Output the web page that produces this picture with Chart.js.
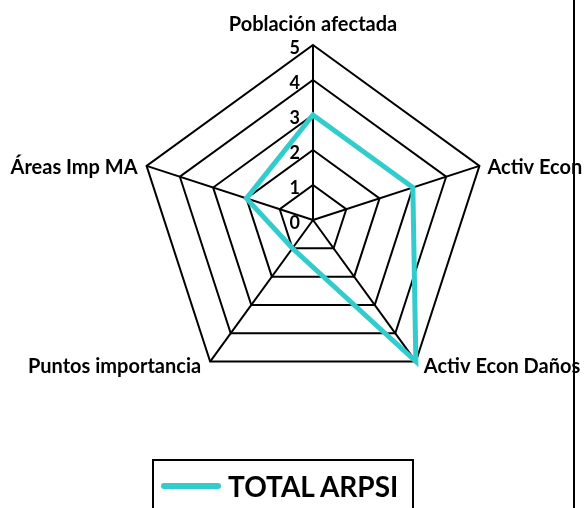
<!DOCTYPE html>
<html>
<head>
<meta charset="utf-8">
<script src="https://cdn.jsdelivr.net/npm/chart.js@4"></script>
<style>
  body { margin: 0; background: #fff; }
  #wrap { position: relative; width: 585px; height: 508px; overflow: hidden; }
  #borde { position: absolute; left: 573px; top: 0; width: 2px; height: 508px; background: #000; }
  #leyenda {
    position: absolute; left: 152px; top: 459px; width: 258px; height: 70px;
    border: 2px solid #000; font-family: Lato, sans-serif; font-weight: bold;
    font-size: 28px; color: #000;
  }
  #leyenda .linea { position: absolute; left: 7px; top: 22px; width: 60px; height: 6px; background: #33CCCC; border-radius: 3px; }
  #leyenda .txt { position: absolute; left: 74px; top: 8px; }
</style>
</head>
<body>
<div id="wrap">
  <canvas id="grafico" width="585" height="508"></canvas>
  <div id="borde"></div>
  <div id="leyenda"><span class="linea"></span><span class="txt">TOTAL ARPSI</span></div>
</div>
<script>
// Datos
const categorias = ['Población afectada', 'Activ Econ', 'Activ Econ Daños', 'Puntos importancia', 'Áreas Imp MA'];
const totalArpsi = [3, 3, 5, 1, 2];
const ticksEje = [0, 1, 2, 3, 4, 5];

// etiquetas del eje (0-5) a la izquierda de la línea vertical
// y nombres de las categorías junto a cada vértice, como en Excel
const etiquetasExcel = {
  id: 'etiquetasExcel',
  afterDraw(chart) {
    const r = chart.scales.r;
    const ctx = chart.ctx;
    ctx.save();
    ctx.fillStyle = '#000';

    ctx.font = 'bold 18px Lato';
    ctx.textAlign = 'right';
    ctx.textBaseline = 'middle';
    ticksEje.forEach(v => {
      const d = r.getDistanceFromCenterForValue(v);
      ctx.fillText(String(v), r.xCenter - 13, r.yCenter - d + 3);
    });

    ctx.font = 'bold 20px Lato';
    ctx.textBaseline = 'alphabetic';
    chart.data.labels.forEach((lab, i) => {
      const p = r.getPointPosition(i, r.drawingArea);
      const ang = Math.round(i * 360 / chart.data.labels.length);
      let x = p.x, y = p.y;
      if (ang === 0) {
        ctx.textAlign = 'center';
        y -= 14;
      } else {
        ctx.textAlign = ang < 180 ? 'left' : 'right';
        x += ang < 180 ? 8 : -9;
        y += (ang > 90 && ang < 270) ? 11 : 8;
      }
      ctx.fillText(lab, x, y);
    });
    ctx.restore();
  }
};

const ctx = document.getElementById('grafico').getContext('2d');
new Chart(ctx, {
  type: 'radar',
  data: {
    labels: categorias,
    datasets: [{
      label: 'TOTAL ARPSI',
      data: totalArpsi,
      borderColor: '#33CCCC',
      borderWidth: 5,
      pointRadius: 0,
      fill: false,
      tension: 0
    }]
  },
  options: {
    responsive: false,
    animation: false,
    layout: { padding: { top: 45, bottom: 113, left: 138, right: 97 } },
    plugins: {
      legend: { display: false },
      tooltip: { enabled: false }
    },
    scales: {
      r: {
        min: 0,
        max: 5,
        ticks: { stepSize: 1, display: false },
        grid: { color: '#000', lineWidth: 2, circular: false },
        angleLines: { color: '#000', lineWidth: 2 },
        pointLabels: { display: false }
      }
    }
  },
  plugins: [etiquetasExcel]
});
</script>
</body>
</html>
